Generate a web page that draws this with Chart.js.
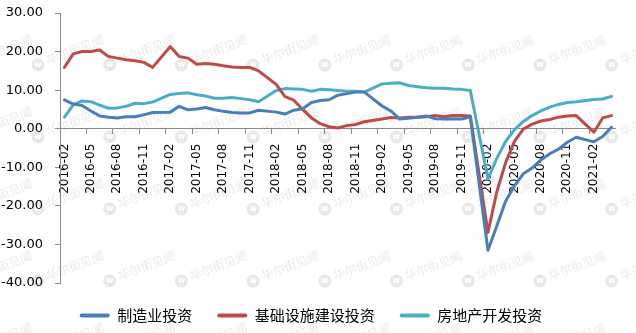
<!DOCTYPE html>
<html>
<head>
<meta charset="utf-8">
<script src="https://cdn.jsdelivr.net/npm/chart.js@4/dist/chart.umd.min.js"></script>
<style>
  html, body { margin: 0; padding: 0; background: #fff; }
  #wrap { width: 636px; height: 333px; position: relative; }
</style>
</head>
<body>
<div id="wrap"><canvas id="chart"></canvas></div>
<script>
// 累计同比增速（%），1月不单独公布，留空
const months = [
  "2016-02", "2016-03", "2016-04", "2016-05", "2016-06", "2016-07", "2016-08", "2016-09", "2016-10", "2016-11", "2016-12",
  "2017-01", "2017-02", "2017-03", "2017-04", "2017-05", "2017-06", "2017-07", "2017-08", "2017-09", "2017-10", "2017-11", "2017-12",
  "2018-01", "2018-02", "2018-03", "2018-04", "2018-05", "2018-06", "2018-07", "2018-08", "2018-09", "2018-10", "2018-11", "2018-12",
  "2019-01", "2019-02", "2019-03", "2019-04", "2019-05", "2019-06", "2019-07", "2019-08", "2019-09", "2019-10", "2019-11", "2019-12",
  "2020-01", "2020-02", "2020-03", "2020-04", "2020-05", "2020-06", "2020-07", "2020-08", "2020-09", "2020-10", "2020-11", "2020-12",
  "2021-01", "2021-02", "2021-03", "2021-04",
];

const manufacturing = [
  7.5, 6.4, 6.0, 4.6, 3.3, 3.0, 2.8, 3.1, 3.1, 3.6, 4.2,
  null, 4.3, 5.8, 4.9, 5.1, 5.5, 4.9, 4.5, 4.2, 4.1, 4.1, 4.8,
  null, 4.3, 3.8, 4.8, 5.2, 6.8, 7.3, 7.5, 8.7, 9.1, 9.5, 9.5,
  null, 5.9, 4.6, 2.5, 2.7, 3.0, 3.3, 2.6, 2.5, 2.6, 2.5, 3.1,
  null, -31.5, -25.2, -18.8, -14.8, -11.7, -10.2, -8.1, -6.5, -5.3, -3.5, -2.2,
  null, -3.4, -2.0, 0.4,
];

const infrastructure = [
  15.9, 19.4, 20.0, 20.0, 20.4, 18.7, 18.3, 17.9, 17.6, 17.2, 15.9,
  null, 21.3, 18.7, 18.3, 16.7, 16.9, 16.7, 16.3, 16.0, 15.9, 15.9, 15.0,
  null, 11.5, 8.3, 7.4, 5.0, 2.8, 1.3, 0.5, 0.2, 0.8, 1.1, 1.8,
  null, 2.5, 2.9, 2.8, 3.0, 3.0, 3.1, 3.4, 3.1, 3.4, 3.4, 3.3,
  null, -26.9, -16.4, -8.8, -3.3, -0.1, 1.2, 2.0, 2.4, 3.0, 3.3, 3.4,
  null, -0.9, 2.8, 3.4,
];

const realEstate = [
  3.0, 6.2, 7.2, 7.0, 6.1, 5.3, 5.4, 5.8, 6.6, 6.5, 6.9,
  null, 8.9, 9.1, 9.3, 8.8, 8.5, 7.9, 7.9, 8.1, 7.8, 7.5, 7.0,
  null, 9.9, 10.4, 10.3, 10.2, 9.7, 10.2, 10.1, 9.9, 9.7, 9.7, 9.5,
  null, 11.6, 11.8, 11.9, 11.2, 10.9, 10.6, 10.5, 10.5, 10.3, 10.2, 9.9,
  null, -13.0, -7.7, -3.3, -0.3, 1.9, 3.4, 4.6, 5.6, 6.3, 6.8, 7.0,
  null, 7.6, 7.7, 8.4,
];

const yTicks = [30, 20, 10, 0, -10, -20, -30, -40];

const colors = {
  manufacturing: "#4a7ebb",
  infrastructure: "#be4b48",
  realEstate: "#4bacc6",
  axis: "#898989",
};

// faint repeated logo + site name behind the plot
const watermark = {
  id: "watermark",
  beforeDraw(chart) {
    const ctx = chart.ctx;
    ctx.save();
    for (let row = -1; row < 5; row++) {
      for (let col = -1; col < 9; col++) {
        const x = 38 + col * 71.7;
        const y = 65 + row * 72;
        ctx.save();
        ctx.translate(x, y);
        ctx.fillStyle = "#e8e8e8";
        ctx.beginPath();
        ctx.arc(0, 0, 6.5, 0, Math.PI * 2);
        ctx.fill();
        ctx.fillStyle = "#fff";
        ctx.font = "bold 8px 'DejaVu Sans'";
        ctx.textAlign = "center";
        ctx.textBaseline = "middle";
        ctx.fillText("w", 0, 0);
        ctx.rotate(-20 * Math.PI / 180);
        ctx.fillStyle = "rgba(0, 0, 0, 0.09)";
        ctx.font = "12px 'Noto Sans CJK SC'";
        ctx.textAlign = "left";
        ctx.fillText("华尔街见闻", 10, -2);
        ctx.restore();
      }
    }
    ctx.restore();
  },
};

const line = (label, data, color) => ({
  label,
  data,
  borderColor: color,
  backgroundColor: color,
  borderWidth: 3,
  pointRadius: 0,
  tension: 0,
  spanGaps: true,
  borderJoinStyle: "round",
  borderCapStyle: "round",
});

new Chart(document.getElementById("chart"), {
  type: "line",
  data: {
    labels: months,
    datasets: [
      line("制造业投资", manufacturing, colors.manufacturing),
      line("基础设施建设投资", infrastructure, colors.infrastructure),
      line("房地产开发投资", realEstate, colors.realEstate),
    ],
  },
  options: {
    responsive: true,
    maintainAspectRatio: false,
    animation: false,
    layout: { padding: { left: 0, right: 14, top: 13, bottom: 0 } },
    plugins: {
      tooltip: { enabled: false },
      legend: {
        position: "bottom",
        labels: {
          color: "#000",
          font: { family: "'Noto Sans CJK SC'", size: 15 },
          boxWidth: 30,
          boxHeight: 4,
          padding: 25,
          useBorderRadius: true,
          borderRadius: 2,
          generateLabels(chart) {
            const items = Chart.defaults.plugins.legend.labels.generateLabels(chart);
            items.forEach((it) => { it.lineWidth = 0; it.fillStyle = it.strokeStyle; });
            return items;
          },
        },
      },
    },
    scales: {
      x: {
        type: "category",
        position: { y: 0 },
        offset: true,
        grid: {
          offset: true,
          drawOnChartArea: false,
          tickLength: 5,
          color: (c) => (c.index % 3 === 0 ? colors.axis : "transparent"),
        },
        border: { color: colors.axis, width: 1 },
        ticks: {
          autoSkip: false,
          maxRotation: 90,
          minRotation: 90,
          padding: 10,
          color: "#000",
          font: { family: "'DejaVu Sans'", size: 12 },
          callback(value, index) {
            return index % 3 === 0 ? months[index] : "";
          },
        },
      },
      y: {
        min: -40,
        max: 30,
        afterFit(scale) {
          scale.width = 60;
          scale.paddingTop = 8;
          scale.paddingBottom = 8;
        },
        afterBuildTicks(scale) { scale.ticks = yTicks.map((v) => ({ value: v })); },
        grid: { drawOnChartArea: false, tickLength: 5, color: colors.axis },
        border: { color: colors.axis, width: 1 },
        ticks: {
          padding: 12,
          color: "#000",
          font: { family: "'DejaVu Sans'", size: 13 },
          callback: (v) => v.toFixed(2),
        },
      },
    },
  },
  plugins: [watermark],
});
</script>
</body>
</html>
